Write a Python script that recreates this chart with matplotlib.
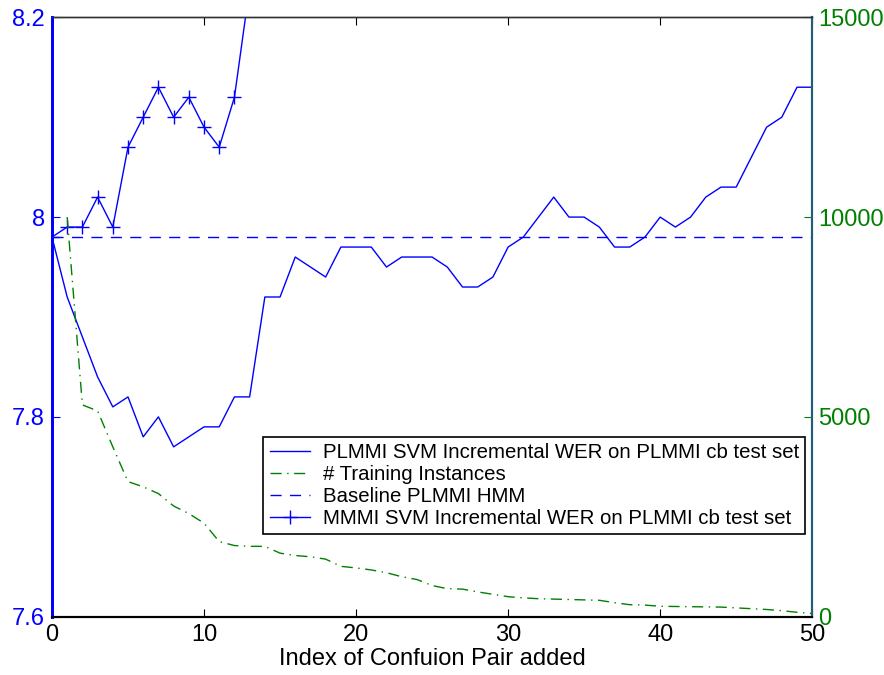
import matplotlib.pyplot as plt
import numpy as np

plt.rcParams['font.family'] = ['Liberation Sans', 'DejaVu Sans']

# index of confusion pair added
x = np.arange(0, 51)

# PLMMI SVM incremental WER (left axis)
wer_plmmi = [7.98, 7.92, 7.88, 7.84, 7.81, 7.82, 7.78, 7.80, 7.77, 7.78,
             7.79, 7.79, 7.82, 7.82, 7.92, 7.92, 7.96, 7.95, 7.94, 7.97,
             7.97, 7.97, 7.95, 7.96, 7.96, 7.96, 7.95, 7.93, 7.93, 7.94,
             7.97, 7.98, 8.00, 8.02, 8.00, 8.00, 7.99, 7.97, 7.97, 7.98,
             8.00, 7.99, 8.00, 8.02, 8.03, 8.03, 8.06, 8.09, 8.10, 8.13,
             8.13]

# MMMI SVM incremental WER (left axis), runs off the top after x=12
x_mmmi = np.arange(0, 14)
wer_mmmi = [7.98, 7.99, 7.99, 8.02, 7.99, 8.07, 8.10, 8.13, 8.10, 8.12,
            8.09, 8.07, 8.12, 8.23]

baseline = 7.98

# number of training instances (right axis)
x_train = np.arange(1, 51)
n_train = [10000, 5300, 5150, 4250, 3380, 3250, 3080, 2770, 2580, 2340,
           1880, 1780, 1760, 1760, 1590, 1530, 1500, 1440, 1260, 1220,
           1170, 1100, 1000, 930, 780, 700, 690, 620, 560, 500,
           470, 450, 440, 430, 420, 410, 350, 300, 290, 260,
           255, 250, 245, 240, 220, 200, 180, 150, 110, 80]

blue = '#0000ff'
green = '#008000'

fig = plt.figure(figsize=(8.84, 6.75), dpi=100)
ax = fig.add_axes([0.0588, 0.0864, 0.86, 0.888])
ax2 = ax.twinx()

l1, = ax.plot(x, wer_plmmi, color=blue, lw=1.0)
l3 = ax.axhline(baseline, color=blue, lw=1.0, ls=(0, (8, 6)))
l4, = ax.plot(x_mmmi, wer_mmmi, color=blue, lw=1.0, marker='+', ms=10, mew=1.0)
l2, = ax2.plot(x_train, n_train, color=green, lw=1.0, ls=(0, (8, 4, 1, 4)))

ax.set_xlim(0, 50)
ax.set_ylim(7.6, 8.2)
ax2.set_ylim(0, 15000)
ax.set_xticks([0, 10, 20, 30, 40, 50])
ax.set_yticks([7.6, 7.8, 8.0, 8.2])
ax.set_yticklabels(['7.6', '7.8', '8', '8.2'])
ax2.set_yticks([0, 5000, 10000, 15000])

fs = 17
ax.tick_params(axis='x', direction='in', length=6, labelsize=fs, pad=5,
               top=True, colors='black')
ax.tick_params(axis='y', direction='in', length=6, labelsize=fs, pad=5,
               colors=blue)
ax2.tick_params(axis='y', direction='in', length=6, labelsize=fs, pad=4,
                colors=green)
# nudge the green zero up slightly so it clears the "50" below it
ax2.get_yticklabels()[0].set_verticalalignment('center_baseline')

for a in (ax, ax2):
    a.spines['left'].set_color(blue)
    a.spines['left'].set_linewidth(2.0)
    a.spines['right'].set_color('#1f5f74')
    a.spines['right'].set_linewidth(1.5)
    a.spines['bottom'].set_color('black')
    a.spines['bottom'].set_linewidth(1.5)
    a.spines['top'].set_color('#333333')
    a.spines['top'].set_linewidth(1.0)

ax.set_xlabel('Index of Confuion Pair added', fontsize=fs, labelpad=2)

leg = ax2.legend([l1, l2, l3, l4],
                 ['PLMMI SVM Incremental WER on PLMMI cb test set',
                  '# Training Instances',
                  'Baseline PLMMI HMM',
                  'MMMI SVM Incremental WER on PLMMI cb test set'],
                 loc='upper right', bbox_to_anchor=(805 / 884, 1 - 437 / 675),
                 bbox_transform=fig.transFigure, fontsize=14.7,
                 frameon=True, fancybox=False, edgecolor='black',
                 framealpha=1, borderpad=0.3, labelspacing=0.15,
                 handlelength=2.0, handletextpad=0.6, borderaxespad=0)
leg.get_frame().set_linewidth(1.2)

fig.savefig('out.png', dpi=100)
